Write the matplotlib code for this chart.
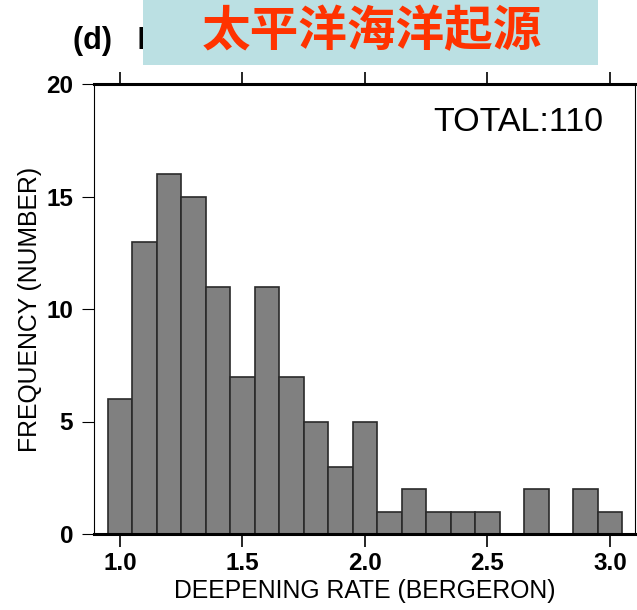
import matplotlib.pyplot as plt
from matplotlib.patches import Rectangle

# 直方图数据 (bin 中心, 频数)
rate = [1.0, 1.1, 1.2, 1.3, 1.4, 1.5, 1.6, 1.7, 1.8, 1.9, 2.0,
        2.1, 2.2, 2.3, 2.4, 2.5, 2.6, 2.7, 2.8, 2.9, 3.0]
count = [6, 13, 16, 15, 11, 7, 11, 7, 5, 3, 5,
         1, 2, 1, 1, 1, 0, 2, 0, 2, 1]
xticks = [1.0, 1.5, 2.0, 2.5, 3.0]
yticks = [0, 5, 10, 15, 20]

plt.rcParams['font.family'] = ['Liberation Sans', 'DejaVu Sans']

fig = plt.figure(figsize=(6.37, 6.10), dpi=100)
ax = fig.add_axes([94/637, 76/610, 541/637, 450/610])

ax.bar(rate, count, width=0.1, color='#808080', edgecolor='#2a2a2a', linewidth=1.2)

ax.set_xlim(0.894, 3.102)
ax.set_ylim(0, 20)
ax.set_xticks(xticks)
ax.set_xticklabels(['%.1f' % v for v in xticks], fontsize=17.5, fontweight='bold')
ax.set_yticks(yticks)
ax.set_yticklabels([str(v) for v in yticks], fontsize=17.5, fontweight='bold')
ax.tick_params(axis='x', direction='out', length=9, width=1.2, top=True, pad=4)
ax.tick_params(axis='y', direction='out', length=9, width=0.8, pad=6)

ax.spines['top'].set_linewidth(2.2)
ax.spines['bottom'].set_linewidth(2.2)
ax.spines['left'].set_linewidth(0.8)
ax.spines['right'].set_linewidth(0.8)

ax.set_xlabel('DEEPENING RATE (BERGERON)', fontsize=17.8, labelpad=3)
ax.set_ylabel('FREQUENCY (NUMBER)', fontsize=17.8, labelpad=3)

ax.text(0.942, 0.915, 'TOTAL:110', transform=ax.transAxes, fontsize=24.5,
        ha='right', va='center')

fig.text(73/637, 1 - 41/610, '(d)   I', fontsize=22, fontweight='bold',
         ha='left', va='center')

# 标题上覆盖的标签框
fig.patches.append(Rectangle((143/637, 1 - 65/610), 455/637, 65/610,
                             transform=fig.transFigure, facecolor='#bbe0e3',
                             edgecolor='none', zorder=5))
fig.text(372/637, 1 - 32/610, '太平洋海洋起源', fontsize=35, fontweight='bold',
         color='#ff3300', ha='center', va='center', zorder=6,
         family=['Noto Sans CJK SC', 'DejaVu Sans'])

plt.savefig('out.png', dpi=100)
